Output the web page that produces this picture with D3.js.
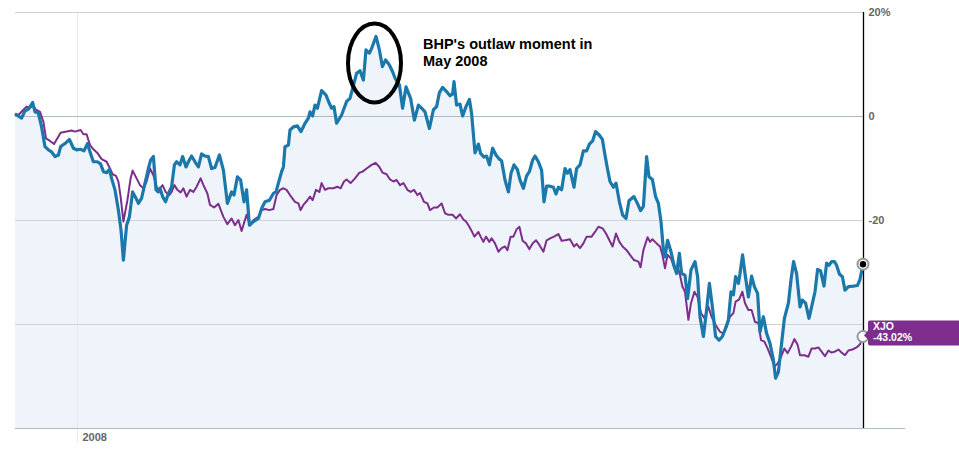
<!DOCTYPE html>
<html><head><meta charset="utf-8">
<script src="https://cdn.jsdelivr.net/npm/d3@7"></script>
<style>
body{margin:0;background:#fff}
svg{display:block;font-family:"Liberation Sans",Arial,sans-serif}
</style>
</head><body>
<svg id="chart" width="959" height="452"></svg>
<script>
// ---- data ----
const startDate = new Date(2007, 11, 1);
const totalDays = 424;
const gridValues = [20, 0, -20, -40];
const yTicks = [20, 0, -20];
const yTickLabels = ["20%", "0", "-20"];
const xTickDates = [new Date(2008, 0, 1)];
const xTickLabels = ["2008"];

const bhpDays = [0,3.3,5,6.7,8.8,10,11.7,13.3,15,16.7,18.3,20,21.7,22.8,25,27.2,29.2,30.8,32.8,34.5,36.2,37.5,39.2,41.2,42.8,44.2,45.8,47.2,48.3,50,51.7,53,54.2,55.8,57.2,58.8,60.5,61.7,63.3,65,66.7,67.8,69.2,70.5,71.7,72.5,73.8,75.3,76.7,78.3,79.7,80.8,82.5,83.8,85.5,86.7,88.3,90,91.7,93.3,95,96.7,98.3,100,102.2,104.2,106.2,108.3,109.5,111.2,112.8,114.5,115.8,117.2,119.2,121.7,123.3,125,127.2,129.2,130.5,131.7,133.3,134.2,135,136.7,137.5,139.2,141.2,143,145,146.7,147.5,148.8,150,151.2,153.3,155.5,157.2,158.3,159.5,160.8,163.3,165.8,167.5,168.8,170.8,172.5,174.2,175.5,177.2,178.3,180.5,182.2,183.7,185.3,187.2,188.8,190,192.2,193.8,195.5,197.8,199.7,201.7,203.3,205,207.2,209.2,210.8,212.2,213.8,215.8,217.5,218.8,219.5,220.8,222.5,223.8,225.5,227.2,228.3,230,231.7,232.8,234.5,235.8,237.2,238.8,240.5,242.2,243.3,245,246.7,248,249.5,251.2,252.5,254.2,255.8,257.2,258.8,260,261.7,263.3,264.5,265.8,267.5,269.2,270.5,271.7,273.3,275,276.2,277.5,279.5,280.8,282.5,284.2,285.8,287.2,288.8,290.3,292.2,293.7,295,296.2,297.5,299.2,300.5,302.2,303.8,305.5,307,309.5,311.2,312.8,314.2,315.8,317,318.7,320.3,321.7,323,324.2,325,326.3,328,329.7,330.8,332.2,333.3,335,336.3,338,340,341.3,342.5,344.2,345.8,347.2,348.7,350.3,352,353.7,355.3,356.7,358,359.2,360.3,361.7,362.5,363.8,365,366.7,368.3,369.7,371.3,372.5,374.2,375.8,377.5,379.2,380.3,381.7,383.3,384.7,386.7,388,389.3,390.8,392.5,393.7,395.3,397,398.3,400,401.3,402.8,404.5,405.8,407,408.3,409.7,410.8,412.2,413.7,415,416.7,419.2,421.2,422.5,424];
const bhpValues = [0.4,-0.4,1.0,1.3,2.6,0.8,0.5,-2.1,-5.9,-6.5,-6.9,-7.8,-7.5,-5.9,-5.3,-4.5,-6.2,-6.5,-6.4,-6.7,-5.3,-6.9,-8.8,-8.8,-9.2,-10.7,-10.9,-10.3,-12.0,-14.2,-18.1,-21.9,-27.7,-21.0,-19.4,-14.6,-15.8,-16.8,-15.8,-12.9,-10.1,-8.5,-7.8,-14.2,-14.6,-13.9,-15.5,-16.5,-14.9,-13.6,-9.4,-8.8,-9.4,-7.8,-9.8,-8.8,-7.7,-8.8,-9.8,-7.3,-7.7,-7.8,-10.1,-9.9,-7.5,-10.4,-16.8,-14.6,-15.2,-11.7,-12.3,-16.5,-14.2,-21.0,-20.3,-19.7,-17.8,-16.5,-16.2,-14.9,-14.6,-12.9,-10.7,-9.8,-5.9,-5.6,-2.7,-2.1,-1.9,-3.0,-1.4,-0.4,0.8,0,2.1,1.5,4.9,4.0,2.4,1.5,1.8,-1.4,0.2,2.8,3.4,5.3,8.2,8.7,6.9,12.7,12.1,13.0,15.3,12.7,9.5,10.8,9.8,8.5,7.3,6.0,1.5,5.6,3.4,-0.8,2.1,1.5,0.8,-2.4,1.2,1.8,4.5,5.5,4.7,3.9,4.2,6.6,2.1,2.3,0,1.8,3.2,0.5,-7.1,-5.4,-7.2,-7.9,-7.7,-9.4,-6.2,-7.5,-8.3,-8.6,-12.3,-14.6,-11.0,-9.4,-10.3,-12.3,-13.9,-11.5,-10.7,-8.5,-7.7,-8.8,-10.4,-16.5,-13.5,-13.5,-13.7,-15.0,-13.7,-14.2,-10.1,-11.0,-10.3,-13.7,-10.1,-9.4,-6.7,-6.7,-5.4,-4.8,-3.0,-3.7,-4.5,-7.5,-10.1,-12.6,-13.7,-12.9,-16.5,-19.0,-19.7,-16.3,-15.5,-16.8,-18.2,-17.4,-7.8,-11.7,-12.2,-15.5,-16.8,-20.3,-25.8,-27.1,-23.9,-26.1,-29.0,-30.3,-26.4,-30.3,-30.6,-35.1,-29.6,-28.0,-30.9,-38.6,-42.4,-37.3,-32.2,-36.7,-42.4,-43.1,-42.4,-40.8,-39.2,-33.8,-34.4,-30.9,-32.2,-30.3,-26.7,-30.3,-34.8,-30.8,-32.8,-34.1,-41.5,-38.6,-41.8,-43.7,-46.9,-50.4,-49.2,-43.7,-38.9,-36.0,-31.5,-28.0,-30.3,-36.7,-35.4,-36.0,-38.9,-36.7,-33.8,-29.5,-29.8,-32.7,-28.3,-28.7,-28.0,-28.0,-28.7,-30.4,-30.9,-33.5,-32.8,-32.7,-32.6,-31.4,-28.5];

const xjoDays = [0,1.7,4.2,5.8,7.5,8.8,10.5,12.5,14.2,15.5,17.5,19.5,21.2,22.8,25.8,28.3,30,32.8,34.2,35.8,37.5,39.2,41.2,43.3,45.8,47.5,48.8,50.5,51.7,52.8,54.2,56.2,57.8,58.8,60.8,62.5,64.2,65.8,67.5,69.2,71.2,72.5,73.8,75.3,77.2,78.3,79.7,81.2,82.8,84.2,85.8,87.5,89.2,90.8,92.8,94.2,96.2,97.5,99.5,101.7,104.2,106.2,108.3,110,111.7,113.3,114.5,115.8,117.5,119.2,121.7,123.3,125,127.2,129.2,130.8,132.5,134.2,135.8,137.5,140,141.7,142.8,144.2,146.2,147.5,148.8,150.5,152.2,153.3,155,156.7,159.2,161.2,162.8,164.5,165.8,167.8,170,172.2,173.8,175.8,178.3,180.3,182.2,183.8,185.8,187.5,189.2,190.8,192.5,194.2,196.2,197.8,199.5,201.2,202.5,204.5,206.2,207.5,209.5,211.2,213.3,215,216.7,218.8,220.5,222.5,224.2,225.5,227.2,228.3,229.7,231.7,232.8,234.2,235.5,237.2,238.3,240,241.7,243.3,245,246.2,247.8,249.2,250.8,252.2,253.8,255.5,257.2,258.8,260.5,262.2,264.2,265.8,267.8,269.5,271.7,273.3,275,277.5,279.5,280.8,282.5,284.2,285.8,288.3,290,291.7,293.8,295.5,297.2,298.8,300.5,302.2,303.8,305.8,307.5,309.5,311.7,312.8,314.2,316.3,317.5,318.7,320.8,322.5,323.7,325,326.3,328,329.7,331.3,332.5,333.7,335,336.7,338,339.7,341.3,343,344.7,346.7,348.3,350.3,352.5,354.2,355.8,357.5,359.2,360.3,362,363.7,365,366.7,368.3,370,371.7,373,374.7,376.3,378,379.7,381.3,383,384.7,386.3,388,389.7,391.3,392.5,394.7,396.7,398.3,400,401.7,403.3,405,406.7,408.3,410,411.7,413.3,415,416.7,418.7,420.8,422.5,424];
const xjoValues = [0.4,0.2,1.2,1.8,1.5,2.1,1.2,0.8,-1.1,-4.3,-4.8,-5.4,-4.3,-3.2,-3.0,-2.8,-3.0,-2.7,-3.5,-3.5,-5.6,-6.4,-7.1,-8.3,-8.8,-10.1,-11.2,-11.5,-12.6,-15.5,-20.3,-16.2,-12.0,-10.5,-12.0,-13.3,-13.9,-12.6,-10.1,-11.4,-14.1,-13.9,-13.3,-14.6,-15.2,-14.6,-13.3,-14.2,-14.7,-13.9,-15.5,-14.2,-14.6,-13.6,-12.0,-13.3,-14.9,-17.1,-17.6,-16.9,-19.4,-20.8,-19.7,-21.0,-20.0,-22.1,-20.6,-19.0,-21.0,-20.0,-19.4,-18.1,-17.9,-18.1,-17.9,-15.2,-14.2,-13.9,-14.2,-15.2,-16.5,-16.8,-18.1,-17.1,-16.2,-15.5,-16.2,-14.2,-14.6,-12.9,-14.2,-13.9,-13.9,-13.6,-13.9,-12.6,-12.2,-12.9,-12.0,-10.9,-10.7,-10.1,-9.4,-9.0,-9.8,-10.9,-11.2,-12.2,-12.6,-12.3,-13.3,-12.9,-14.2,-14.6,-14.2,-15.2,-14.8,-16.5,-16.8,-18.1,-17.6,-17.6,-16.8,-18.7,-19.0,-19.0,-19.7,-18.9,-19.9,-20.3,-21.3,-22.1,-23.2,-22.3,-23.2,-24.2,-23.2,-24.2,-23.5,-24.5,-26.1,-25.4,-25.1,-25.8,-23.2,-23.2,-21.8,-21.3,-24.0,-24.5,-25.6,-24.5,-23.9,-24.8,-26.1,-23.9,-23.5,-23.2,-22.7,-24.0,-23.9,-23.7,-25.1,-24.6,-25.4,-24.5,-23.2,-23.2,-22.3,-21.3,-21.6,-22.6,-23.9,-25.1,-22.6,-24.2,-25.1,-25.8,-26.7,-27.7,-28.0,-29.1,-25.8,-23.3,-24.2,-23.7,-24.5,-25.1,-26.7,-29.3,-26.7,-27.4,-29.3,-29.0,-30.6,-32.8,-33.8,-39.2,-36.0,-33.8,-34.8,-37.9,-38.9,-36.7,-38.6,-40.2,-41.5,-41.8,-40.6,-38.6,-37.9,-35.7,-35.3,-33.8,-36.0,-37.3,-37.3,-39.6,-39.8,-43.1,-43.4,-44.7,-46.3,-48.2,-47.6,-46.3,-44.7,-45.6,-44.4,-42.9,-44.0,-46.0,-46.0,-46.3,-44.7,-44.7,-44.5,-45.3,-46.2,-45.1,-45.5,-45.3,-44.9,-45.5,-46.0,-45.1,-44.9,-44.5,-43.9,-42.4];

const annotationLines = ["BHP's outlaw moment in", "May 2008"];
const xjoLabel = ["XJO", "-43.02%"];

// ---- chart ----
const svg = d3.select("#chart");
const dayToDate = d => new Date(startDate.getTime() + d * 864e5);
const x = d3.scaleTime().domain([startDate, dayToDate(totalDays)]).range([15, 863]);
const y = d3.scaleLinear().domain([-60, 20]).range([428, 12]);

const bhp = bhpDays.map((d, i) => ({date: dayToDate(d), v: bhpValues[i]}));
const xjo = xjoDays.map((d, i) => ({date: dayToDate(d), v: xjoValues[i]}));

// area fill under BHP
svg.append("path").datum(bhp)
  .attr("fill", "#eef4f9")
  .attr("d", d3.area().x(d => x(d.date)).y0(y(-60)).y1(d => y(d.v)));

// vertical year grid + bottom axis
const xAxis = d3.axisBottom(x).tickValues(xTickDates)
  .tickFormat((d, i) => xTickLabels[i]).tickSize(14).tickSizeOuter(0);
const gx = svg.append("g").attr("transform", `translate(0,${y(-60)})`).call(xAxis);
gx.select(".domain").remove();
gx.selectAll(".tick line").attr("stroke", "#e5eaee").attr("y1", y(20) - y(-60));
gx.selectAll(".tick text").attr("text-anchor", "start").attr("x", 5).attr("y", 5).attr("dy", "0.71em")
  .attr("fill", "#666").attr("font-weight", "bold").attr("font-size", 11)
  .attr("font-family", "Liberation Sans, Arial, sans-serif");

// horizontal grid lines
svg.append("g").selectAll("line").data(gridValues).join("line")
  .attr("x1", 15).attr("x2", 863)
  .attr("y1", d => y(d) + 0.5).attr("y2", d => y(d) + 0.5)
  .attr("stroke", d => d === 0 ? "#aebdc4" : "#cfd3d6").attr("stroke-width", 1);
// bottom baseline
svg.append("line").attr("x1", 15).attr("x2", 905)
  .attr("y1", y(-60) + 0.5).attr("y2", y(-60) + 0.5)
  .attr("stroke", "#aebdc4").attr("stroke-width", 1.2);

// lines
const line = d3.line().x(d => x(d.date)).y(d => y(d.v)).curve(d3.curveLinear);
svg.append("path").datum(xjo).attr("fill", "none").attr("stroke", "#7d2e8d")
  .attr("stroke-width", 2).attr("stroke-linejoin", "round").attr("d", line);
svg.append("path").datum(bhp).attr("fill", "none").attr("stroke", "#1a78ab")
  .attr("stroke-width", 3.2).attr("stroke-linejoin", "round").attr("d", line);

// right axis
const yAxis = d3.axisRight(y).tickValues(yTicks)
  .tickFormat((d, i) => yTickLabels[i]).tickSize(0).tickSizeOuter(0).tickPadding(5);
const gy = svg.append("g").attr("transform", `translate(863.5,0)`).call(yAxis);
gy.select(".domain").attr("stroke", "#000").attr("stroke-width", 1.3)
  .attr("d", `M0,${y(20)}V${y(-60)}`);
gy.selectAll(".tick text").attr("fill", "#666").attr("font-weight", "bold").attr("font-size", 11)
  .attr("font-family", "Liberation Sans, Arial, sans-serif");

// end markers
const bl = bhp[bhp.length - 1], xl = xjo[xjo.length - 1];
svg.append("circle").attr("cx", x(bl.date)).attr("cy", y(bl.v)).attr("r", 5.5)
  .attr("fill", "#fff").attr("stroke", "#999").attr("stroke-width", 2);
svg.append("circle").attr("cx", x(bl.date)).attr("cy", y(bl.v)).attr("r", 3.2).attr("fill", "#000");
svg.append("circle").attr("cx", x(xl.date)).attr("cy", y(xl.v)).attr("r", 5.5)
  .attr("fill", "#fff").attr("stroke", "#999").attr("stroke-width", 2);

// XJO label
const lx = x(xl.date), ly = y(xl.v);
const lab = svg.append("g");
lab.append("path").attr("fill", "#7d2e8d")
  .attr("d", `M${lx + 1},${ly - 1} L${lx + 5},${ly - 6} L${lx + 5},${ly - 14} Q${lx + 5},${ly - 16} ${lx + 7},${ly - 16} L${lx + 96},${ly - 16} L${lx + 96},${ly + 9} L${lx + 7},${ly + 9} Q${lx + 5},${ly + 9} ${lx + 5},${ly + 7} L${lx + 5},${ly + 3} Z`);
lab.selectAll("text").data(xjoLabel).join("text")
  .attr("x", lx + 10).attr("y", (d, i) => ly - 6.5 + i * 11)
  .attr("fill", "#fff").attr("font-weight", "bold").attr("font-size", 10.5)
  .text(d => d);

// annotation
const peak = bhp.reduce((a, b) => b.v > a.v ? b : a);
svg.append("ellipse").attr("cx", x(peak.date) - 1.5).attr("cy", y(peak.v - 5.1))
  .attr("rx", 26.5).attr("ry", 39.5)
  .attr("fill", "none").attr("stroke", "#000").attr("stroke-width", 4);
svg.append("g").selectAll("text").data(annotationLines).join("text")
  .attr("x", 423).attr("y", (d, i) => 49 + i * 17)
  .attr("fill", "#000").attr("font-weight", "bold").attr("font-size", 14.5)
  .text(d => d);
</script>
</body></html>
